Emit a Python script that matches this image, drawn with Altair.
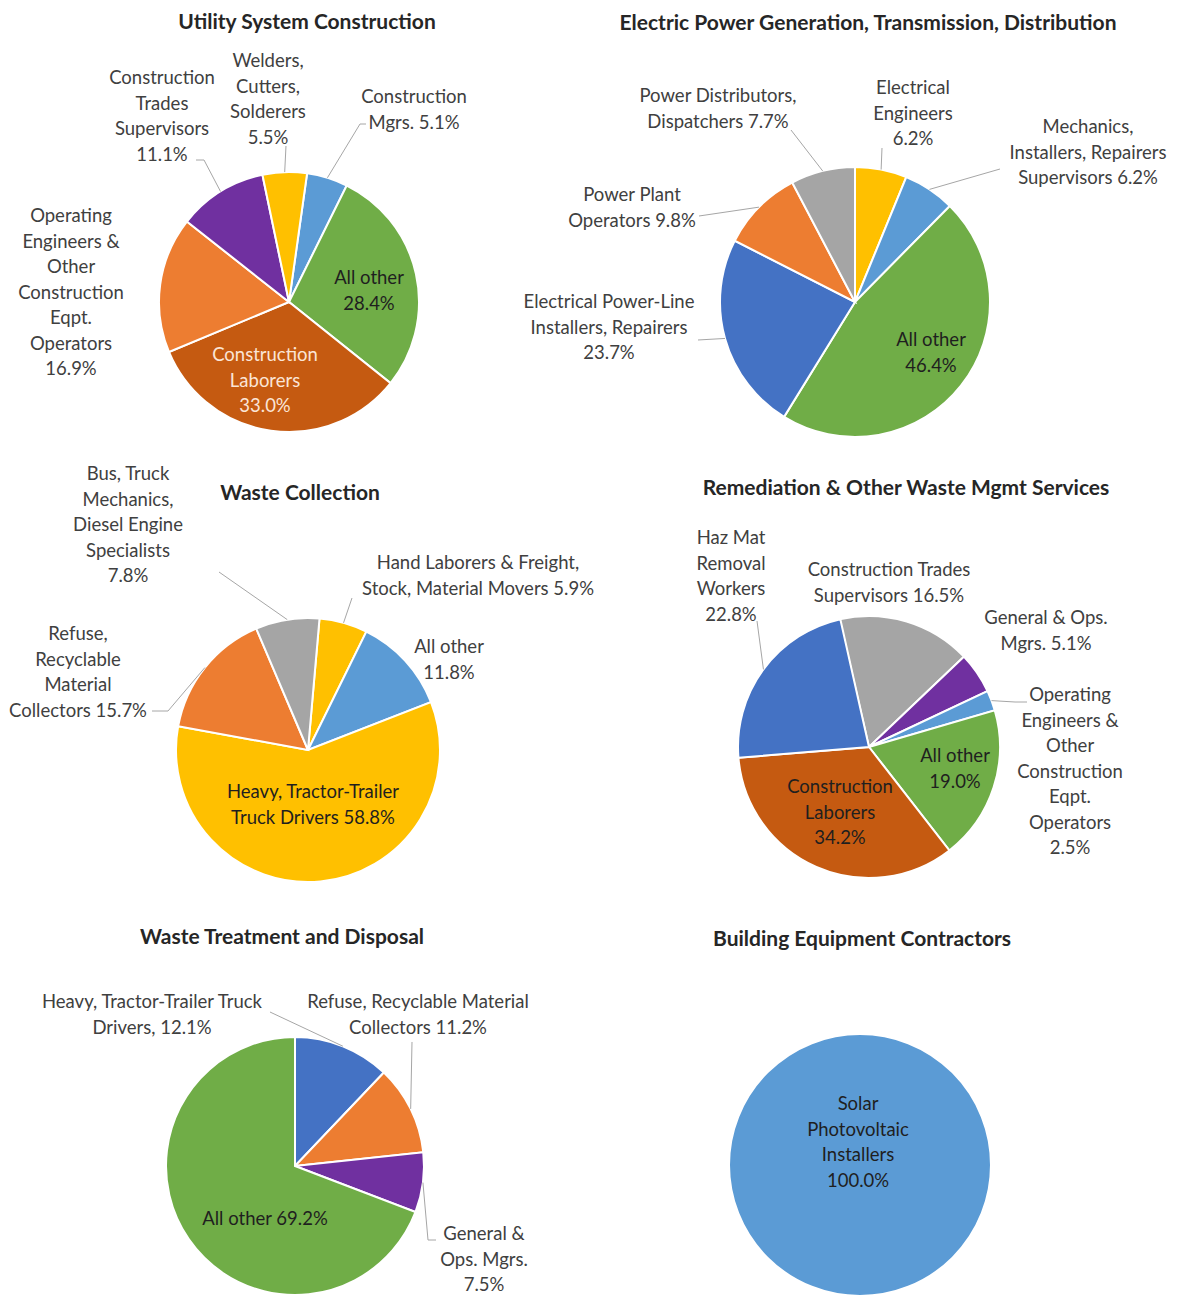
import math
import altair as alt
import pandas as pd

# ---------------- data ----------------
titles = [
    "Utility System Construction",
    "Electric Power Generation, Transmission, Distribution",
    "Waste Collection",
    "Remediation & Other Waste Mgmt Services",
    "Waste Treatment and Disposal",
    "Building Equipment Contractors",
]

utility_cats = ["Construction Mgrs.", "All other", "Construction Laborers",
                "Operating Engineers & Other Construction Eqpt. Operators",
                "Construction Trades Supervisors", "Welders, Cutters, Solderers"]
utility_vals = [5.1, 28.4, 33.0, 16.9, 11.1, 5.5]
utility_labels = ["Construction\nMgrs. {}", "All other\n{}", "Construction\nLaborers\n{}",
                  "Operating\nEngineers &\nOther\nConstruction\nEqpt.\nOperators\n{}",
                  "Construction\nTrades\nSupervisors\n{}", "Welders,\nCutters,\nSolderers\n{}"]

power_cats = ["Electrical Engineers", "Mechanics, Installers, Repairers Supervisors", "All other",
              "Electrical Power-Line Installers, Repairers", "Power Plant Operators",
              "Power Distributors, Dispatchers"]
power_vals = [6.2, 6.2, 46.4, 23.7, 9.8, 7.7]
power_labels = ["Electrical\nEngineers\n{}", "Mechanics,\nInstallers, Repairers\nSupervisors {}",
                "All other\n{}", "Electrical Power-Line\nInstallers, Repairers\n{}",
                "Power Plant\nOperators {}", "Power Distributors,\nDispatchers {}"]

collect_cats = ["Hand Laborers & Freight, Stock, Material Movers", "All other",
                "Heavy, Tractor-Trailer Truck Drivers", "Refuse, Recyclable Material Collectors",
                "Bus, Truck Mechanics, Diesel Engine Specialists"]
collect_vals = [5.9, 11.8, 58.8, 15.7, 7.8]
collect_labels = ["Hand Laborers & Freight,\nStock, Material Movers {}", "All other\n{}",
                  "Heavy, Tractor-Trailer\nTruck Drivers {}",
                  "Refuse,\nRecyclable\nMaterial\nCollectors {}",
                  "Bus, Truck\nMechanics,\nDiesel Engine\nSpecialists\n{}"]

remed_cats = ["Construction Trades Supervisors", "General & Ops. Mgrs.",
              "Operating Engineers & Other Construction Eqpt. Operators", "All other",
              "Construction Laborers", "Haz Mat Removal Workers"]
remed_vals = [16.5, 5.1, 2.5, 19.0, 34.2, 22.8]
remed_labels = ["Construction Trades\nSupervisors {}", "General & Ops.\nMgrs. {}",
                "Operating\nEngineers &\nOther\nConstruction\nEqpt.\nOperators\n{}",
                "All other\n{}", "Construction\nLaborers\n{}", "Haz Mat\nRemoval\nWorkers\n{}"]

treat_cats = ["Heavy, Tractor-Trailer Truck Drivers", "Refuse, Recyclable Material Collectors",
              "General & Ops. Mgrs.", "All other"]
treat_vals = [12.1, 11.2, 7.5, 69.2]
treat_labels = ["Heavy, Tractor-Trailer Truck\nDrivers, {}", "Refuse, Recyclable Material\nCollectors {}",
                "General &\nOps. Mgrs.\n{}", "All other {}"]

building_cats = ["Solar Photovoltaic Installers"]
building_vals = [100.0]
building_labels = ["Solar\nPhotovoltaic\nInstallers\n{}"]

# ---------------- styles / layout ----------------
PAL = {"blue": "#5B9BD5", "navy": "#4472C4", "green": "#70AD47", "orange": "#ED7D31",
       "rust": "#C55A11", "purple": "#7030A0", "gold": "#FFC000", "gray": "#A5A5A5"}
OUT = "#404040"
IN = "#1F1F1F"
LIGHT = "#FBE5D6"
LH = 25.5
M = 8  # page margin

layout = [
    dict(cats=utility_cats, vals=utility_vals, labels=utility_labels,
         cx=289, cy=302, r=130, start=8, title=(307, 23),
         slices=[("blue", 414, 97, OUT, [(360, 124), (366, 124)]),
                 ("green", 369, 278, IN, None),
                 ("rust", 265, 355, LIGHT, None),
                 ("orange", 71, 216, OUT, None),
                 ("purple", 162, 78, OUT, [(204, 160), (196, 160)]),
                 ("gold", 268, 61, OUT, [(286, 146)])]),
    dict(cats=power_cats, vals=power_vals, labels=power_labels,
         cx=855, cy=302, r=135, start=0, title=(868, 24),
         slices=[("gold", 913, 88, OUT, [(882, 148)]),
                 ("blue", 1088, 127, OUT, [(1000, 169)]),
                 ("green", 931, 340, IN, None),
                 ("navy", 609, 302, OUT, [(698, 340)]),
                 ("orange", 632, 195, OUT, [(699, 216)]),
                 ("gray", 718, 96, OUT, [(791, 130)])]),
    dict(cats=collect_cats, vals=collect_vals, labels=collect_labels,
         cx=308, cy=750, r=132, start=5, title=(300, 494),
         slices=[("gold", 478, 563, OUT, [(352, 598)]),
                 ("blue", 449, 647, OUT, None),
                 ("gold", 313, 792, IN, None),
                 ("orange", 78, 634, OUT, [(168, 711), (152, 711)]),
                 ("gray", 128, 474, OUT, [(219, 572)])]),
    dict(cats=remed_cats, vals=remed_vals, labels=remed_labels,
         cx=869, cy=747, r=131, start=-13, title=(906, 489),
         slices=[("gray", 889, 570, OUT, None),
                 ("purple", 1046, 618, OUT, None),
                 ("blue", 1070, 695, OUT, [(1015, 702), (1027, 702)]),
                 ("green", 955, 756, IN, None),
                 ("rust", 840, 787, IN, None),
                 ("navy", 731, 538, OUT, [(757, 621)])]),
    dict(cats=treat_cats, vals=treat_vals, labels=treat_labels,
         cx=295, cy=1166, r=129, start=0, title=(282, 938),
         slices=[("navy", 152, 1002, OUT, [(270, 1012)]),
                 ("orange", 418, 1002, OUT, [(412, 1042)]),
                 ("purple", 484, 1234, OUT, [(428, 1240), (436, 1240)]),
                 ("green", 265, 1219, IN, None)]),
    dict(cats=building_cats, vals=building_vals, labels=building_labels,
         cx=860, cy=1165, r=131, start=0, title=(862, 940),
         slices=[("blue", 858, 1104, IN, None)]),
]

# ---------------- build tables ----------------
arc_rows, text_rows, rule_rows, title_rows = [], [], [], []
for p, pie in enumerate(layout):
    title_rows.append(dict(text=titles[p], x=pie["title"][0] - M, y=pie["title"][1] - M))
    cum = 0.0
    for i, (cat, v, tmpl, sl) in enumerate(zip(pie["cats"], pie["vals"], pie["labels"], pie["slices"])):
        cname, lx, ly, tcol, leader = sl
        arc_rows.append(dict(pie=p, order=i, category=cat, value=v, color=PAL[cname],
                             cx=pie["cx"] - M, cy=pie["cy"] - M, r=pie["r"],
                             offset=(pie["start"] / 360.0 * 100.0) % 100.0))
        label = tmpl.format(f"{v:.1f}%")
        for j, line in enumerate(label.split("\n")):
            text_rows.append(dict(text=line, x=lx - M, y=ly + j * LH - M, color=tcol))
        if leader:
            a = math.radians(pie["start"] + (cum + v / 2.0) * 3.6)
            pts = [(pie["cx"] + pie["r"] * math.sin(a), pie["cy"] - pie["r"] * math.cos(a))] + leader
            for (x1, y1), (x2, y2) in zip(pts[:-1], pts[1:]):
                rule_rows.append(dict(x=x1 - M, y=y1 - M, x2=x2 - M, y2=y2 - M))
        cum += v

arcs_df = pd.DataFrame(arc_rows)
text_df = pd.DataFrame(text_rows)
rule_df = pd.DataFrame(rule_rows)
title_df = pd.DataFrame(title_rows)

FONT = "Lato"

arcs = alt.Chart(arcs_df).transform_window(
    cum="sum(value)", groupby=["pie"], sort=[alt.SortField("order")], frame=[None, 0]
).transform_calculate(
    t0="datum.cum - datum.value + datum.offset",
    t1="datum.cum + datum.offset",
).mark_arc(stroke="white", strokeWidth=2).encode(
    x=alt.X("cx:Q", scale=None),
    y=alt.Y("cy:Q", scale=None),
    theta=alt.Theta("t0:Q", scale=alt.Scale(domain=[0, 100], range=[0, 2 * math.pi])),
    theta2="t1:Q",
    radius=alt.Radius("r:Q", scale=None),
    color=alt.Color("color:N", scale=None),
    tooltip=["category:N", "value:Q"],
)

rules = alt.Chart(rule_df).mark_rule(color="#A6A6A6", strokeWidth=1).encode(
    x=alt.X("x:Q", scale=None), y=alt.Y("y:Q", scale=None),
    x2="x2:Q", y2="y2:Q",
)

labels = alt.Chart(text_df).mark_text(
    font=FONT, fontSize=18.5, align="center", baseline="middle"
).encode(
    x=alt.X("x:Q", scale=None), y=alt.Y("y:Q", scale=None),
    text="text:N", color=alt.Color("color:N", scale=None),
)

title_marks = alt.Chart(title_df).mark_text(
    font=FONT, fontSize=21, fontWeight="bold", align="center", baseline="middle", color="#262626"
).encode(
    x=alt.X("x:Q", scale=None), y=alt.Y("y:Q", scale=None), text="text:N",
)

chart = alt.layer(arcs, rules, labels, title_marks).properties(
    width=1162, height=1285, padding=0, background="white"
).configure_view(stroke=None)

chart.save("out.html", embed_options={"renderer": "svg", "actions": False})
